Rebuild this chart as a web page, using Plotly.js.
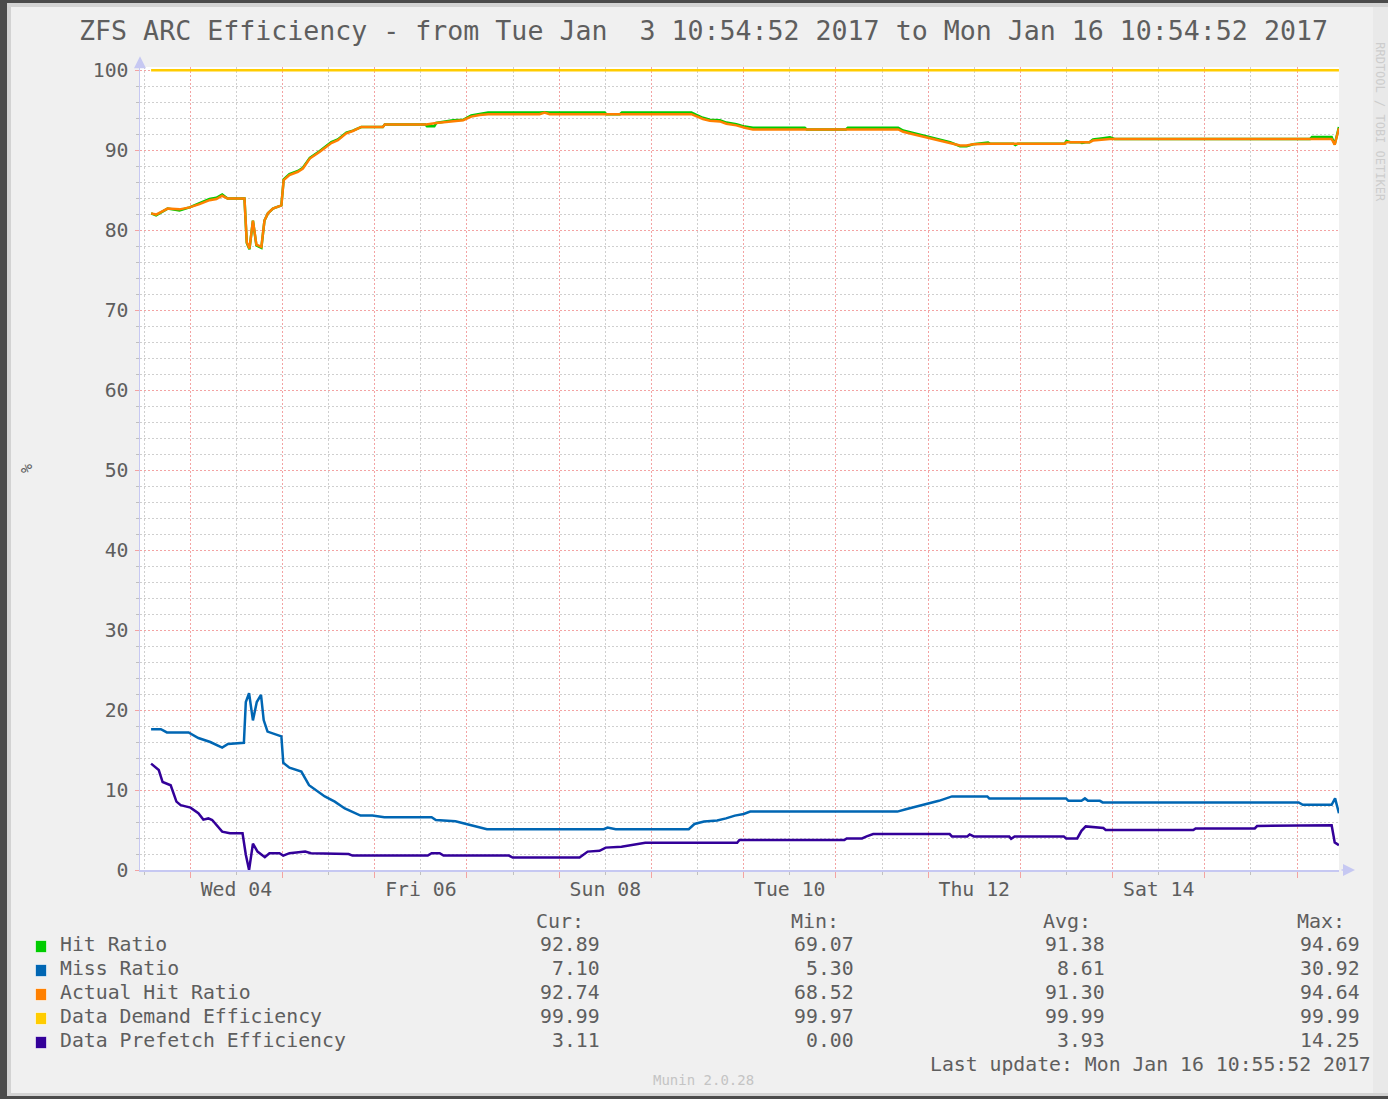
<!DOCTYPE html>
<html>
<head>
<meta charset="utf-8">
<script src="https://cdn.plot.ly/plotly-3.0.1.min.js"></script>
<style>
html,body{margin:0;padding:0;background:#4b4b4b;width:1388px;height:1099px;overflow:hidden;}
#frame{position:absolute;left:7px;top:3px;width:1381px;height:1093px;box-sizing:border-box;border-left:4px solid #d3d3d3;border-top:4px solid #d3d3d3;border-bottom:3px solid #d3d3d3;background:#f0f0f0;}
#strip{position:absolute;left:1373px;top:7px;width:15px;height:1086px;background:#e9e9e9;}
#chart{position:absolute;left:0;top:0;width:1388px;height:1099px;}
</style>
</head>
<body>
<div id="frame"></div><div id="strip"></div><div id="chart"></div>
<script>
// ---------------- DATA ----------------
const chartTitle = 'ZFS ARC Efficiency - from Tue Jan  3 10:54:52 2017 to Mon Jan 16 10:54:52 2017';
const rangeStart = '2017-01-03 10:54:52';
const rangeEnd = '2017-01-16 10:54:52';
const baseDate = Date.UTC(2017, 0, 4); // hours below are counted from 2017-01-04 00:00

const tickDates = ['2017-01-04 12:00', '2017-01-06 12:00', '2017-01-08 12:00', '2017-01-10 12:00', '2017-01-12 12:00', '2017-01-14 12:00'];
const tickLabels = ['Wed 04', 'Fri 06', 'Sun 08', 'Tue 10', 'Thu 12', 'Sat 14'];

const seriesNames = ['Hit Ratio', 'Miss Ratio', 'Actual Hit Ratio', 'Data Demand Efficiency', 'Data Prefetch Efficiency'];
const seriesColors = ['#00CC00', '#0066B3', '#FF8000', '#FFCC00', '#330099'];
const curValues = [92.89, 7.10, 92.74, 99.99, 3.11];
const minValues = [69.07, 5.30, 68.52, 99.97, 0.00];
const avgValues = [91.38, 8.61, 91.30, 99.99, 3.93];
const maxValues = [94.69, 30.92, 94.64, 99.99, 14.25];
const lastUpdate = 'Last update: Mon Jan 16 10:55:52 2017';

const hitHours = [-10.2, -8.9, -5.9, -2.8, -0.2, 2.4, 5.0, 6.8, 8.3, 9.7, 14.1, 14.7, 15.4, 16.3, 17.2, 18.5, 19.3, 20.2, 21.5, 23.7,
  24.3, 25.8, 28.0, 29.3, 31.1, 33.7, 36.7, 38.4, 40.6, 42.3, 44.5, 50.1, 50.6, 61.2, 61.6, 63.5, 64.0, 68.4, 71.0, 73.1,
  75.3, 77.5, 90.9, 92.2, 93.5, 107.8, 108.3, 111.8, 112.3, 130.4, 131.7, 133.4, 135.2, 137.8, 139.5, 142.1, 144.3, 146.4, 159.9, 160.4,
  170.6, 171.1, 184.2, 185.5, 188.1, 191.6, 194.2, 196.4, 197.7, 200.3, 202.0, 203.7, 207.6, 208.2, 214.2, 214.7, 215.3, 227.5, 228.0, 229.0,
  231.5, 232.0, 233.0, 234.0, 234.9, 237.5, 239.3, 240.5, 291.4, 291.9, 297.0, 297.8, 298.9];
const hitValues = [82.1, 81.85, 82.7, 82.45, 82.85, 83.4, 83.9, 84.05, 84.45, 83.95, 83.95, 78.4, 77.6, 81.2, 78.1, 77.8, 81.2, 82.1, 82.7, 83.1,
  86.35, 87.0, 87.4, 87.8, 89.05, 89.9, 91.0, 91.35, 92.2, 92.45, 92.9, 92.9, 93.2, 93.2, 93.0, 93.0, 93.4, 93.75, 93.8, 94.35,
  94.55, 94.7, 94.7, 94.75, 94.7, 94.7, 94.5, 94.5, 94.7, 94.7, 94.4, 94.05, 93.8, 93.75, 93.45, 93.25, 92.95, 92.8, 92.8, 92.6,
  92.6, 92.8, 92.8, 92.45, 92.15, 91.75, 91.45, 91.15, 91.0, 90.5, 90.5, 90.75, 90.95, 90.8, 90.8, 90.65, 90.8, 90.8, 91.15, 91.0,
  91.0, 90.9, 91.0, 91.0, 91.35, 91.5, 91.6, 91.4, 91.4, 91.65, 91.65, 90.75, 92.89];

const missHours = [-10.2, -7.65, -6.1, -0.45, 2.1, 5.2, 8.3, 9.8, 13.95, 14.45, 15.3, 16.3, 17.3, 18.4, 19.1, 20.1, 23.7, 24.2, 25.8, 28.9,
  30.9, 33.0, 35.0, 37.6, 40.2, 44.3, 47.4, 50.5, 62.8, 63.9, 69.0, 73.1, 77.2, 107.6, 108.6, 110.7, 129.7, 131.2, 133.7, 137.1,
  139.4, 141.7, 144.0, 145.7, 184.0, 186.2, 188.5, 191.9, 194.8, 198.2, 207.4, 207.9, 227.9, 228.5, 231.9, 232.8, 233.6, 236.7, 237.4, 288.4,
  289.5, 297.0, 297.9, 298.9];
const missValues = [17.6, 17.6, 17.2, 17.2, 16.5, 16.0, 15.3, 15.75, 15.9, 21.0, 22.1, 18.7, 21.0, 21.9, 18.75, 17.3, 16.7, 13.4, 12.8, 12.3,
  10.6, 9.9, 9.2, 8.55, 7.7, 6.8, 6.8, 6.6, 6.6, 6.25, 6.1, 5.6, 5.1, 5.1, 5.3, 5.1, 5.1, 5.75, 6.05, 6.2,
  6.45, 6.8, 7.0, 7.3, 7.3, 7.6, 7.9, 8.3, 8.65, 9.2, 9.2, 8.95, 8.95, 8.65, 8.65, 8.95, 8.65, 8.65, 8.45, 8.45,
  8.15, 8.15, 8.95, 7.1];

const actualHours = [-10.2, -8.9, -5.9, -2.8, -0.2, 2.4, 5.0, 6.8, 8.3, 9.7, 14.1, 14.7, 15.4, 16.3, 17.2, 18.5, 19.3, 20.2, 21.5, 23.7,
  24.3, 25.8, 28.0, 29.3, 31.1, 33.7, 36.7, 38.4, 40.6, 42.3, 44.5, 50.1, 50.6, 61.4, 64.0, 68.4, 71.0, 73.1, 75.3, 77.5,
  90.9, 92.2, 93.5, 130.4, 131.7, 133.4, 135.2, 137.8, 139.5, 142.1, 144.3, 146.4, 184.2, 185.5, 188.1, 191.6, 194.2, 196.4, 197.7, 200.3,
  202.0, 203.7, 207.6, 227.5, 228.0, 234.0, 234.9, 237.5, 239.3, 297.0, 297.8, 298.9];
const actualValues = [82.1, 81.95, 82.7, 82.6, 82.85, 83.25, 83.75, 83.9, 84.3, 83.95, 83.95, 78.5, 77.7, 81.2, 78.2, 77.9, 81.2, 82.1, 82.7, 83.1,
  86.25, 86.9, 87.3, 87.7, 88.95, 89.8, 90.9, 91.25, 92.1, 92.4, 92.9, 92.9, 93.2, 93.2, 93.4, 93.6, 93.75, 94.2, 94.4, 94.5,
  94.5, 94.7, 94.5, 94.5, 94.25, 93.9, 93.67, 93.6, 93.3, 93.1, 92.8, 92.6, 92.6, 92.3, 92.0, 91.6, 91.3, 91.0, 90.9, 90.6,
  90.6, 90.75, 90.8, 90.8, 91.0, 91.0, 91.2, 91.3, 91.4, 91.4, 90.7, 92.74];

const demandHours = [-10.2, 298.9];
const demandValues = [99.99, 99.99];

const prefetchHours = [-10.2, -8.2, -7.2, -5.1, -3.6, -2.5, 0.05, 2.1, 3.4, 4.7, 5.7, 8.3, 10.3, 13.6, 14.45, 15.3, 16.3, 17.5, 19.4, 20.6,
  23.2, 24.2, 25.8, 29.9, 31.4, 41.2, 42.2, 61.8, 62.8, 64.9, 65.9, 82.9, 83.9, 101.3, 103.4, 106.5, 108.1, 112.2, 118.4, 142.3,
  142.9, 170.2, 170.8, 174.8, 176.0, 177.7, 197.6, 198.2, 202.2, 202.8, 203.9, 213.1, 213.6, 214.5, 227.3, 227.9, 230.8, 231.9, 233.0, 237.6,
  238.2, 261.0, 261.6, 277.0, 277.6, 297.0, 297.8, 298.9];
const prefetchValues = [13.3, 12.5, 11.0, 10.6, 8.55, 8.1, 7.8, 7.1, 6.3, 6.45, 6.25, 4.8, 4.6, 4.6, 1.9, 0.0, 3.3, 2.3, 1.6, 2.1,
  2.1, 1.8, 2.1, 2.3, 2.1, 2.0, 1.8, 1.8, 2.1, 2.1, 1.8, 1.8, 1.55, 1.55, 2.3, 2.4, 2.8, 2.9, 3.4, 3.4,
  3.75, 3.75, 3.95, 3.95, 4.2, 4.5, 4.5, 4.2, 4.2, 4.45, 4.2, 4.2, 3.9, 4.2, 4.2, 3.95, 3.95, 4.9, 5.45, 5.25,
  5.0, 5.0, 5.2, 5.2, 5.5, 5.6, 3.45, 3.1];

// ---------------- LAYOUT CONSTANTS ----------------
const W = 1388, H = 1099;
const Y_MAX = 100.4;                 // a little headroom so the 99.99 line is not clipped
const PL = 140, PR = 1339, PB = 870;
const PX_PER_UNIT = 8;               // 100 % = 800 px
const PT = PB - PX_PER_UNIT * Y_MAX;
const FONT = 'DejaVu Sans Mono, monospace';
const TXT = '#5e5e5e';
const px2x = p => (p - PL) / (PR - PL);
const py2y = p => (PB - p) / (PB - PT);
const toDate = h => new Date(baseDate + Math.round(h * 3600000)).toISOString().slice(0, 19).replace('T', ' ');

const seriesData = [
  [hitHours, hitValues],
  [missHours, missValues],
  [actualHours, actualValues],
  [demandHours, demandValues],
  [prefetchHours, prefetchValues]
];

const traces = seriesData.map((s, i) => ({
  type: 'scatter', mode: 'lines', name: seriesNames[i],
  x: s[0].map(toDate), y: s[1],
  line: { color: seriesColors[i], width: 2.5 },
  // the flat demand line sits on the label axis (same range) so that axis is drawn
  xaxis: i === 3 ? 'x2' : 'x', yaxis: 'y', showlegend: false, hoverinfo: 'skip'
}));

const majorGrid = '#f3a3a3';
const minorGrid = '#cfcfcf';
const axisCol = '#c6c8f2';

const annotations = [];
// axis arrows
annotations.push({ xref: 'paper', yref: 'paper', x: 0, y: py2y(56), ax: 0, ay: 12, text: '', showarrow: true,
  arrowhead: 2, arrowsize: 1.6, arrowwidth: 1.5, arrowcolor: axisCol });
annotations.push({ xref: 'paper', yref: 'paper', x: px2x(1355), y: 0, ax: -15, ay: 0, text: '', showarrow: true,
  arrowhead: 2, arrowsize: 1.6, arrowwidth: 1.5, arrowcolor: axisCol });

// legend table
const colRight = [602, 856, 1107, 1362];
const headRight = [586, 841, 1093, 1347];
const heads = ['Cur:', 'Min:', 'Avg:', 'Max:'];
heads.forEach((h, j) => annotations.push({ xref: 'paper', yref: 'paper', x: px2x(headRight[j]), y: py2y(921),
  xanchor: 'right', yanchor: 'middle', text: h, showarrow: false, font: { family: FONT, size: 20, color: TXT } }));
const statCols = [curValues, minValues, avgValues, maxValues];
seriesNames.forEach((n, i) => {
  const yy = 945 + 24 * i;
  annotations.push({ xref: 'paper', yref: 'paper', x: px2x(35), y: py2y(yy + 2), xanchor: 'left', yanchor: 'middle',
    text: ' ', showarrow: false, width: 10, height: 11, bgcolor: seriesColors[i], bordercolor: 'rgba(255,255,255,0.6)',
    borderwidth: 1, borderpad: 0, font: { size: 6 } });
  annotations.push({ xref: 'paper', yref: 'paper', x: px2x(58), y: py2y(yy), xanchor: 'left', yanchor: 'middle',
    text: n, showarrow: false, font: { family: FONT, size: 19.8, color: TXT } });
  statCols.forEach((col, j) => annotations.push({ xref: 'paper', yref: 'paper', x: px2x(colRight[j]), y: py2y(yy),
    xanchor: 'right', yanchor: 'middle', text: col[i].toFixed(2), showarrow: false,
    font: { family: FONT, size: 19.8, color: TXT } }));
});
annotations.push({ xref: 'paper', yref: 'paper', x: px2x(1373), y: py2y(1065), xanchor: 'right', yanchor: 'middle',
  text: lastUpdate, showarrow: false, font: { family: FONT, size: 19.8, color: TXT } });
annotations.push({ xref: 'paper', yref: 'paper', x: px2x(703), y: py2y(1080), xanchor: 'center', yanchor: 'middle',
  text: 'Munin 2.0.28', showarrow: false, font: { family: FONT, size: 14, color: '#c4c4c4' } });
annotations.push({ xref: 'paper', yref: 'paper', x: px2x(1380), y: py2y(122), xanchor: 'center', yanchor: 'middle',
  text: 'RRDTOOL / TOBI OETIKER', textangle: 90, showarrow: false, font: { family: FONT, size: 12, color: '#cdcdcd' } });

const layout = {
  width: W, height: H,
  margin: { l: PL, r: W - PR, t: PT, b: H - PB, pad: 0 },
  paper_bgcolor: 'rgba(0,0,0,0)', plot_bgcolor: '#ffffff',
  font: { family: FONT, color: TXT },
  showlegend: false, hovermode: false,
  title: { text: chartTitle, x: 703.5 / W, xanchor: 'center', xref: 'container', y: 1 - 31 / H, yref: 'container',
    yanchor: 'middle', font: { family: FONT, size: 26.6, color: TXT } },
  xaxis: {
    type: 'date', range: [rangeStart, rangeEnd], tickmode: 'linear', tick0: '2017-01-04 00:00:00', dtick: 86400000,
    showticklabels: false, ticks: 'outside', ticklen: 6, tickcolor: majorGrid, tickwidth: 1,
    showgrid: true, gridcolor: majorGrid, griddash: '2px,2px', gridwidth: 1,
    showline: true, linecolor: axisCol, linewidth: 1.5, zeroline: false,
    minor: { tick0: '2017-01-04 00:00:00', dtick: 43200000, showgrid: true, gridcolor: minorGrid, griddash: '2px,2px',
      gridwidth: 1, ticks: 'outside', ticklen: 3, tickcolor: '#c0c0c0' }
  },
  xaxis2: {
    type: 'date', overlaying: 'x', anchor: 'y', side: 'bottom', range: [rangeStart, rangeEnd],
    tickmode: 'array', tickvals: tickDates, ticktext: tickLabels, showgrid: false, ticks: '', showline: false,
    zeroline: false, ticklabelstandoff: 5, tickfont: { family: FONT, size: 19.8, color: TXT }
  },
  yaxis: {
    range: [0, Y_MAX], tickmode: 'linear', tick0: 0, dtick: 10, ticks: 'outside', ticklen: 4, tickcolor: majorGrid,
    showgrid: true, gridcolor: majorGrid, griddash: '2px,2px', gridwidth: 1,
    showline: true, linecolor: axisCol, linewidth: 1.5, zeroline: false, ticklabelstandoff: 2,
    tickfont: { family: FONT, size: 19.8, color: TXT },
    title: { text: '%', standoff: 56, font: { family: FONT, size: 15, color: TXT } },
    minor: { tick0: 0, dtick: 2, showgrid: true, gridcolor: minorGrid, griddash: '2px,2px', gridwidth: 1,
      ticks: 'outside', ticklen: 3, tickcolor: '#c0c0c0' }
  },
  annotations: annotations
};

Plotly.newPlot('chart', traces, layout, { staticPlot: true, displayModeBar: false });
</script>
</body>
</html>
